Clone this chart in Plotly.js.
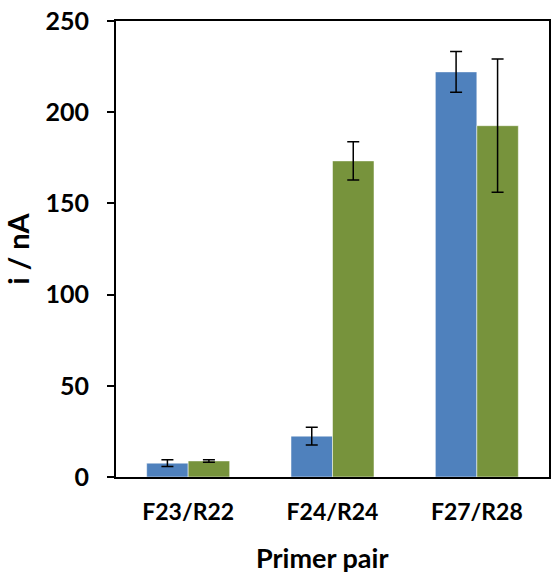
<!DOCTYPE html>
<html>
<head>
<meta charset="utf-8">
<script src="https://cdn.plot.ly/plotly-3.0.1.min.js"></script>
<style>html,body{margin:0;padding:0;background:#fff}#chart{width:558px;height:573px}</style>
</head>
<body>
<div id="chart"></div>
<script>
var categories = ["F23/R22", "F24/R24", "F27/R28"];
var seriesBlue = [7.6, 22.4, 222.1];
var errBlue = [1.9, 4.9, 11.2];
var seriesGreen = [8.8, 173.3, 192.6];
var errGreen = [0.7, 10.5, 36.5];
var yTicks = [0, 50, 100, 150, 200, 250];
var xTitle = "Primer pair";
var yTitle = "i / nA";

var fontFam = "Lato, 'Open Sans', sans-serif";

var traces = [
  {
    type: "bar", x: categories, y: seriesBlue, name: "A",
    marker: {color: "#4F81BD", line: {color: "rgba(255,255,255,0.5)", width: 1}},
    error_y: {type: "data", array: errBlue, visible: true, color: "#000", thickness: 1.5, width: 6}
  },
  {
    type: "bar", x: categories, y: seriesGreen, name: "B",
    marker: {color: "#77933C", line: {color: "rgba(255,255,255,0.5)", width: 1}},
    error_y: {type: "data", array: errGreen, visible: true, color: "#000", thickness: 1.5, width: 6}
  }
];

var layout = {
  width: 558, height: 573,
  margin: {l: 116, r: 9, t: 21, b: 96, pad: 0},
  paper_bgcolor: "#fff", plot_bgcolor: "#fff",
  showlegend: false,
  barmode: "group", bargap: 0.425, bargroupgap: 0,
  font: {family: fontFam, color: "#000"},
  xaxis: {
    type: "category",
    showline: true, linecolor: "#000", linewidth: 2, mirror: true,
    ticks: "", showgrid: false, zeroline: false,
    tickfont: {family: fontFam, size: 23, weight: "bold", color: "#000"},
    ticklabelstandoff: 13
  },
  yaxis: {
    range: [0, 250], tickvals: yTicks, ticktext: yTicks.map(String),
    showline: true, linecolor: "#000", linewidth: 2, mirror: true,
    ticks: "outside", ticklen: 7, tickwidth: 2, tickcolor: "#000",
    showgrid: false, zeroline: false,
    tickfont: {family: fontFam, size: 25, weight: "bold", color: "#000"},
    ticklabelstandoff: 13,
    title: {text: yTitle, font: {family: fontFam, size: 29, weight: "bold", color: "#000"}, standoff: 14}
  },
  annotations: [{
    text: xTitle, xref: "paper", yref: "paper", x: 0.478, y: -0.177,
    xanchor: "center", yanchor: "middle", showarrow: false,
    font: {family: fontFam, size: 27, weight: "bold", color: "#000"}
  }]
};

Plotly.newPlot("chart", traces, layout, {displayModeBar: false, staticPlot: true});
</script>
</body>
</html>
